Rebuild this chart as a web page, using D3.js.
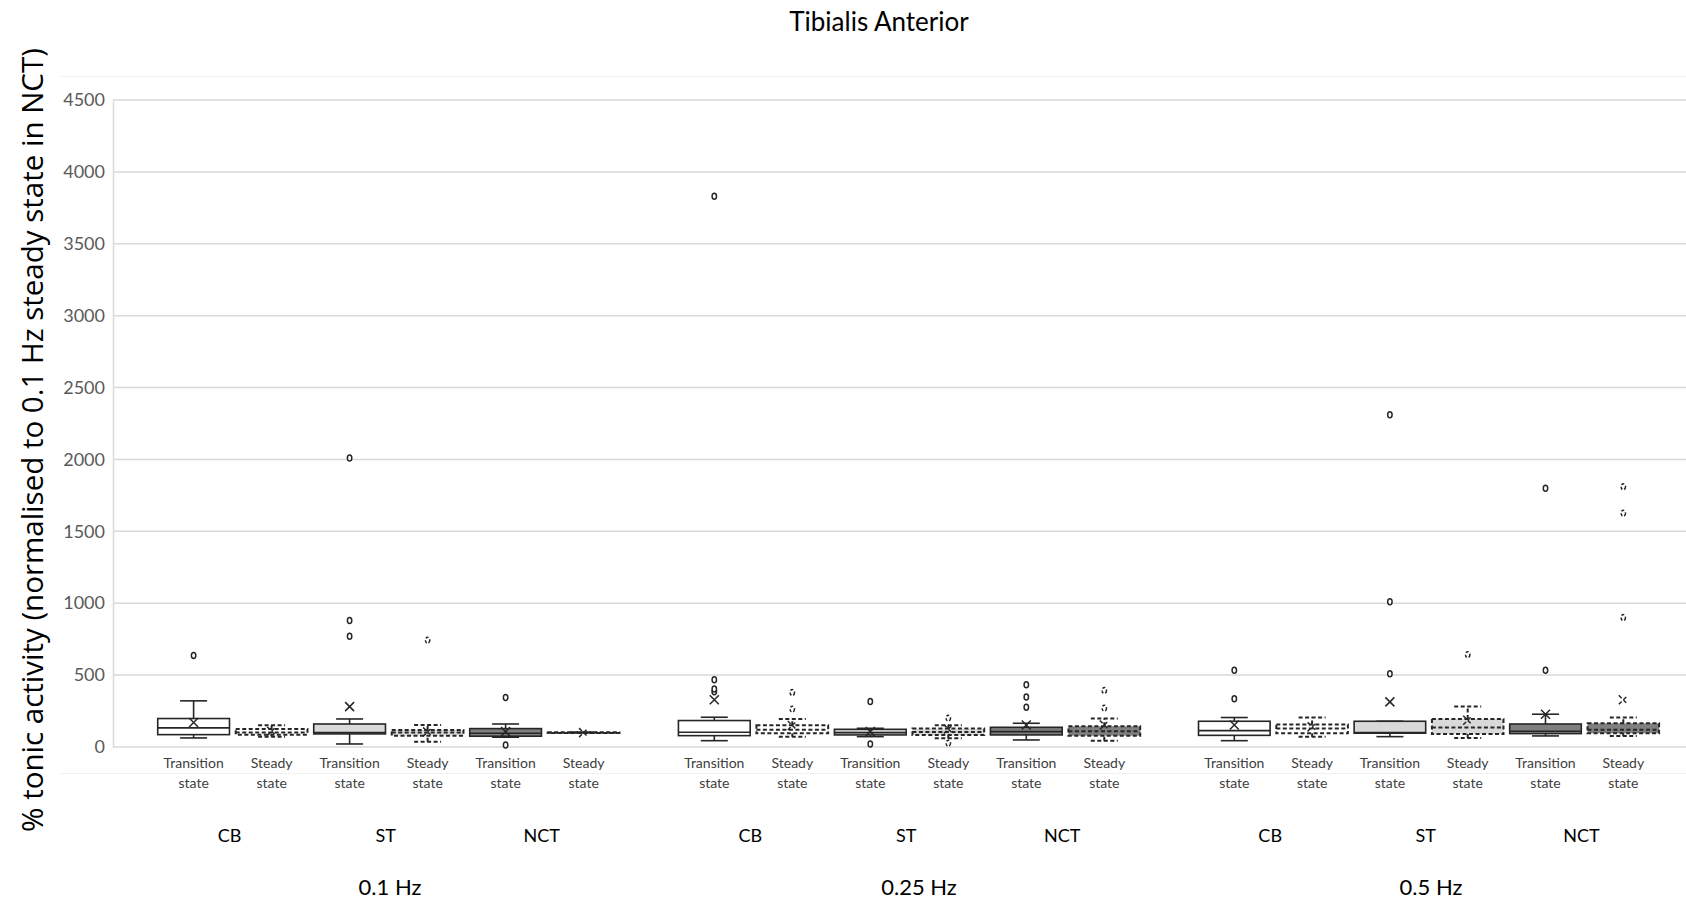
<!DOCTYPE html>
<html>
<head>
<meta charset="utf-8">
<script src="https://cdn.jsdelivr.net/npm/d3@7"></script>
<style>
  body { margin: 0; background: #fff; }
  svg { display: block; }
  text { font-family: Lato, 'Open Sans', sans-serif; }
</style>
</head>
<body>
<div id="chart"></div>
<script>
// categories
const frequencies = ['0.1 Hz', '0.25 Hz', '0.5 Hz'];
const groups = ['CB', 'ST', 'NCT'];
const states = ['Transition state', 'Steady state'];
const yTicks = [0, 500, 1000, 1500, 2000, 2500, 3000, 3500, 4000, 4500];

// box statistics, one row per frequency:
// CB transition, CB steady, ST transition, ST steady, NCT transition, NCT steady
const whiskerLow = [
  [63, 72, 21, 37, 68, 100],
  [44, 72, 72, 60, 49, 44],
  [44, 72, 72, 63, 77, 77]
];
const q1 = [
  [86, 86, 91, 79, 75, 100],
  [79, 96, 84, 84, 84, 79],
  [81, 96, 96, 91, 93, 96]
];
const median = [
  [133, 100, 100, 100, 96, 100],
  [103, 120, 100, 105, 107, 110],
  [114, 128, 100, 135, 110, 120]
];
const q3 = [
  [198, 125, 160, 119, 128, 100],
  [184, 151, 123, 128, 137, 144],
  [179, 156, 179, 195, 160, 165]
];
const whiskerHigh = [
  [321, 151, 195, 153, 160, 100],
  [207, 195, 130, 151, 165, 198],
  [205, 205, 179, 281, 228, 205]
];
const means = [
  [170, 110, 281, 105, 107, 100],
  [328, 150, 107, 125, 153, 153],
  [153, 140, 314, 186, 228, 328]
];
const outliers = [
  [[637], [], [770, 879, 2010], [742], [14, 344], []],
  [[384, 403, 468, 3830], [263, 379], [21, 316], [26, 200], [277, 347, 433], [270, 393]],
  [[335, 533], [], [509, 1010, 2310], [642], [533, 1800], [900, 1625, 1810]]
];

const groupFill = { CB: '#ffffff', ST: '#d9d9d9', NCT: '#7f7f7f' };

/* Layout */
const width = 1686, height = 902;
const panels = [
  { frame: [60, 663], grid: [113, 663], band: [154.6, 622.6], hzX: 390 },
  { frame: [663, 1187], grid: [663, 1187], band: [675.3, 1143.3], hzX: 919 },
  { frame: [1187, 1686], grid: [1187, 1686], band: [1195.4, 1662.2], hzX: 1431 }
];

const svg = d3.select('#chart')
  .append('svg')
  .attr('width', width)
  .attr('height', height);

const y = d3.scaleLinear([0, 4500], [747, 100]);

// title
svg.append('text')
  .attr('x', 879)
  .attr('y', 31)
  .attr('text-anchor', 'middle')
  .attr('font-size', 26)
  .attr('fill', '#000')
  .text('Tibialis Anterior');

// y axis label
svg.append('text')
  .attr('transform', 'translate(31, 440) rotate(-90)')
  .attr('text-anchor', 'middle')
  .attr('dominant-baseline', 'central')
  .style('font-family', "'Open Sans', sans-serif")
  .attr('font-size', 29.5)
  .attr('fill', '#000')
  .text('% tonic activity (normalised to 0.1 Hz steady state in NCT)');

const keys = [];
groups.forEach(g => states.forEach(s => keys.push(g + '|' + s)));

panels.forEach((p, pi) => {
  const g = svg.append('g');

  // faint chart frame: only top and bottom edges show in the reference
  g.selectAll('.frame')
    .data([76.5, 773.5])
    .join('line')
    .attr('class', 'frame')
    .attr('x1', p.frame[0]).attr('x2', p.frame[1])
    .attr('y1', d => d).attr('y2', d => d)
    .attr('stroke', '#f2f2f2');

  // gridlines
  g.append('g')
    .selectAll('line')
    .data(yTicks)
    .join('line')
    .attr('x1', p.grid[0])
    .attr('x2', p.grid[1])
    .attr('y1', d => y(d))
    .attr('y2', d => y(d))
    .attr('stroke', '#d9d9d9')
    .attr('stroke-width', 1.5);

  const x = d3.scaleBand(keys, p.band)
    .paddingInner(0.08)
    .paddingOuter(0.04);
  const bw = x.bandwidth();

  // category labels (two lines)
  const xAxis = d3.axisBottom(x).tickSize(0).tickFormat(d => d.split('|')[1]);
  const ax = g.append('g')
    .attr('transform', 'translate(0,747)')
    .call(xAxis);
  ax.select('.domain').remove();
  ax.selectAll('.tick text')
    .attr('y', 0)
    .attr('dy', null)
    .attr('font-size', 14)
    .attr('fill', '#404040')
    .style('font-family', 'Lato, sans-serif')
    .each(function (d) {
      const words = d.split('|')[1].split(' ');
      const t = d3.select(this).text(null);
      t.append('tspan').attr('x', 0).attr('y', 21).text(words[0]);
      t.append('tspan').attr('x', 0).attr('y', 41).text(words[1]);
    });

  // group labels
  g.selectAll('.grp')
    .data(groups)
    .join('text')
    .attr('class', 'grp')
    .attr('x', d => (x(d + '|' + states[0]) + x(d + '|' + states[1]) + bw) / 2 - 3)
    .attr('y', 842)
    .attr('text-anchor', 'middle')
    .attr('font-size', 18)
    .attr('fill', '#000')
    .text(d => d);

  // frequency label
  g.append('text')
    .attr('x', p.hzX)
    .attr('y', 895)
    .attr('text-anchor', 'middle')
    .attr('font-size', 22)
    .attr('fill', '#000')
    .text(frequencies[pi]);

  // boxes
  const boxes = keys.map((k, i) => ({
    key: k,
    group: k.split('|')[0],
    steady: k.split('|')[1] === states[1],
    low: whiskerLow[pi][i],
    q1: q1[pi][i],
    med: median[pi][i],
    q3: q3[pi][i],
    high: whiskerHigh[pi][i],
    mean: means[pi][i],
    out: outliers[pi][i]
  }));

  const stroke = '#262626';
  const bg = g.selectAll('.box')
    .data(boxes)
    .join('g')
    .attr('class', 'box')
    .attr('transform', d => `translate(${x(d.key) + bw / 2},0)`)
    .attr('stroke', stroke)
    .attr('stroke-width', d => d.steady ? 2 : 1.6)
    .attr('stroke-dasharray', d => d.steady ? '4,2.5' : null);

  // whiskers
  bg.append('line')
    .attr('y1', d => y(d.low)).attr('y2', d => y(d.q1));
  bg.append('line')
    .attr('y1', d => y(d.q3)).attr('y2', d => y(d.high));
  bg.append('line')
    .attr('x1', -13.5).attr('x2', 13.5)
    .attr('y1', d => y(d.low)).attr('y2', d => y(d.low));
  bg.append('line')
    .attr('x1', -13.5).attr('x2', 13.5)
    .attr('y1', d => y(d.high)).attr('y2', d => y(d.high));

  // box
  bg.append('rect')
    .attr('x', -bw / 2)
    .attr('width', bw)
    .attr('y', d => y(d.q3))
    .attr('height', d => Math.max(0.5, y(d.q1) - y(d.q3)))
    .attr('fill', d => groupFill[d.group]);

  // median
  bg.append('line')
    .attr('x1', -bw / 2).attr('x2', bw / 2)
    .attr('y1', d => y(d.med)).attr('y2', d => y(d.med));

  // mean marker
  bg.append('path')
    .attr('d', d => {
      const c = y(d.mean), s = 4.5;
      return `M${-s},${c - s}L${s},${c + s}M${-s},${c + s}L${s},${c - s}`;
    })
    .attr('fill', 'none')
    .attr('stroke-width', 1.5)
    .attr('stroke-dasharray', null);

  // outliers
  bg.selectAll('ellipse')
    .data(d => d.out.map(v => ({ v, steady: d.steady })))
    .join('ellipse')
    .attr('cx', 0)
    .attr('cy', d => y(d.v))
    .attr('rx', 2.2)
    .attr('ry', 3)
    .attr('fill', '#fff')
    .attr('stroke-width', 1.5)
    .attr('stroke-dasharray', d => d.steady ? '3,2' : null);
});

// y axis
const yAxis = d3.axisLeft(y)
  .tickValues(yTicks)
  .tickFormat(d3.format('d'))
  .tickSize(0)
  .tickPadding(8);
const yg = svg.append('g')
  .attr('transform', 'translate(113,0)')
  .call(yAxis);
yg.select('.domain').attr('stroke', '#d9d9d9').attr('stroke-width', 1.5);
yg.selectAll('.tick text')
  .attr('font-size', 18)
  .attr('fill', '#595959')
  .style('font-family', 'Lato, sans-serif');
</script>
</body>
</html>
